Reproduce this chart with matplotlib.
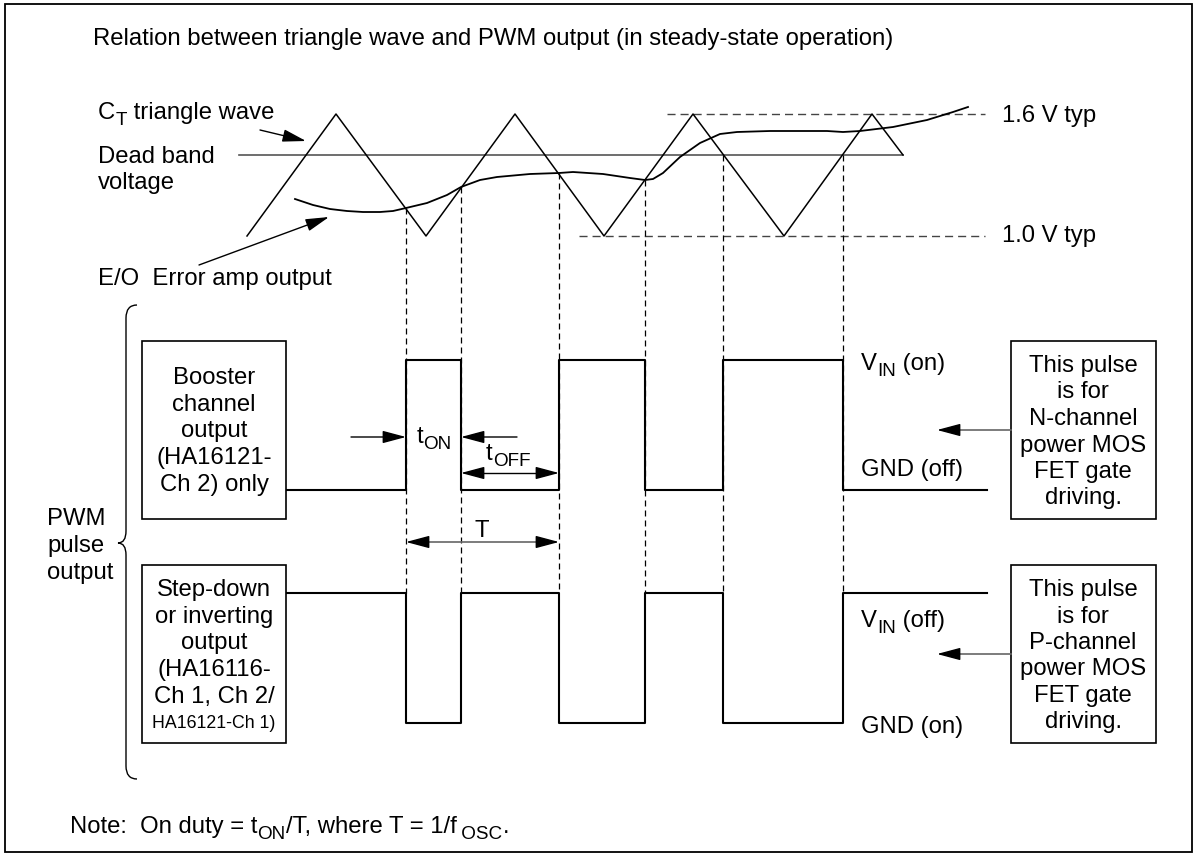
import matplotlib
matplotlib.use('Agg')
import matplotlib.pyplot as plt
from matplotlib.patches import Rectangle, PathPatch
from matplotlib.path import Path
from matplotlib.transforms import IdentityTransform

plt.rcParams['font.family'] = ['Liberation Sans', 'DejaVu Sans']
plt.rcParams['lines.scale_dashes'] = False

# --- values (x = time axis, y = level, in picture px) ---
tri_x = [247, 336, 426, 515, 604, 693, 784, 872, 903]
tri_y = [236, 114, 236, 114, 236, 114, 236, 114, 155]
dead_band_x = [239, 903]
dead_band_y = 155
v_16_y = 114
v_10_y = 236
v_16_x = [667, 985]
v_10_x = [579, 985]

# error amp output (E/O)
eo_x = [295, 313, 330, 347, 363, 380, 393, 406, 427, 447, 461, 480, 497, 530,
        559, 573, 603, 630, 645, 653, 663, 680, 700, 720, 737, 770, 793, 827,
        843, 860, 893, 927, 953, 968]
eo_y = [199, 205, 209, 211, 212, 212, 211, 208, 203, 195, 187, 180, 177, 174,
        173, 172, 174, 178, 180, 179, 173, 157, 143, 134, 132, 131, 131, 131,
        132, 131, 127, 120, 112, 107]

# switching instants (triangle crossings) and where the dashed guides start
edge_x = [406, 461, 559, 645, 723, 843]
edge_top = [208, 187, 173, 180, 155, 155]

# PWM waveforms
pulse_t = [287, 406, 461, 559, 645, 723, 843, 987]
boost_y = [490, 360, 490, 360, 490, 360, 490, 490]
step_y = [593, 723, 593, 723, 593, 723, 593, 593]
guide_bottom = 593

booster_lines = ['Booster', 'channel', 'output', '(HA16121-', 'Ch 2) only']
booster_base = [384, 411, 437, 464, 491]
stepdown_lines = ['Step-down', 'or inverting', 'output', '(HA16116-', 'Ch 1, Ch 2/']
stepdown_base = [596, 623, 649, 676, 703]
n_lines = ['This pulse', 'is for', 'N-channel', 'power MOS', 'FET gate', 'driving.']
n_base = [372, 398, 425, 452, 478, 504]
p_lines = ['This pulse', 'is for', 'P-channel', 'power MOS', 'FET gate', 'driving.']
p_base = [596, 623, 649, 675, 702, 728]

FS = 17.2
SUB_FS = 13.6

fig = plt.figure(figsize=(11.99, 8.60), dpi=100)
ax = fig.add_axes([0, 0, 1, 1])
ax.set_xlim(0, 1199)
ax.set_ylim(860, 0)
ax.axis('off')
renderer = fig.canvas.get_renderer()


def rich(x, y, parts):
    # text with subscripts: parts = [(string, is_subscript), ...]
    cx, cy = ax.transData.transform((x, y))
    for s, sub in parts:
        t = ax.text(cx, cy - (6 if sub else 0), s, fontsize=SUB_FS if sub else FS,
                    va='baseline', transform=IdentityTransform())
        cx = t.get_window_extent(renderer).x1


# outer frame
ax.add_patch(Rectangle((5, 4), 1187, 848, fill=False, lw=1.3, ec='black'))

ax.text(93, 45, 'Relation between triangle wave and PWM output (in steady-state operation)',
        fontsize=FS, va='baseline')

# triangle area
ax.plot(dead_band_x, [dead_band_y] * 2, color='#555555', lw=1.2)
ax.plot(v_16_x, [v_16_y] * 2, color='#444444', lw=1.0, dashes=(5.8, 3.6))
ax.plot(v_10_x, [v_10_y] * 2, color='#444444', lw=1.0, dashes=(5.8, 3.6))
ax.plot(tri_x, tri_y, color='black', lw=1.1)
ax.plot(eo_x, eo_y, color='black', lw=1.3)
ax.text(1002, 122, '1.6 V typ', fontsize=FS, va='baseline')
ax.text(1002, 242, '1.0 V typ', fontsize=FS, va='baseline')

rich(98, 119, [('C', False), ('T', True), (' triangle wave', False)])
ax.text(98, 163, 'Dead band', fontsize=FS, va='baseline')
ax.text(98, 189, 'voltage', fontsize=FS, va='baseline')
ax.text(98, 285, 'E/O  Error amp output', fontsize=FS, va='baseline')


def head(x0, y0, x1, y1, color='black'):
    ax.annotate('', xy=(x1, y1), xytext=(x0, y0),
                arrowprops=dict(arrowstyle='-|>,head_length=0.6,head_width=0.16',
                                mutation_scale=24, color=color, lw=1.0,
                                shrinkA=0, shrinkB=0))


head(260, 130, 306, 141)
head(199, 265, 329, 217)

# dashed guides
for x, top in zip(edge_x, edge_top):
    ax.plot([x, x], [top, guide_bottom], color='black', lw=0.9, dashes=(4.3, 2.9))

# pulse trains
ax.step(pulse_t, boost_y, where='post', color='black', lw=1.5)
ax.step(pulse_t, step_y, where='post', color='black', lw=1.5)

# boxes
for bx, by in [(142, 341), (142, 565), (1011, 341), (1011, 565)]:
    ax.add_patch(Rectangle((bx, by), 144 if bx < 500 else 145, 178, fill=False,
                           lw=1.2, ec='black'))
for t, b in zip(booster_lines, booster_base):
    ax.text(214, b, t, fontsize=FS, ha='center', va='baseline')
for t, b in zip(stepdown_lines, stepdown_base):
    ax.text(214, b, t, fontsize=FS, ha='center', va='baseline')
ax.text(214, 728, 'HA16121-Ch 1)', fontsize=12.8, ha='center', va='baseline')
for t, b in zip(n_lines, n_base):
    ax.text(1083, b, t, fontsize=FS, ha='center', va='baseline')
for t, b in zip(p_lines, p_base):
    ax.text(1083, b, t, fontsize=FS, ha='center', va='baseline')

# level labels
rich(861, 370, [('V', False), ('IN', True), (' (on)', False)])
ax.text(861, 476, 'GND (off)', fontsize=FS, va='baseline')
rich(861, 627, [('V', False), ('IN', True), (' (off)', False)])
ax.text(861, 733, 'GND (on)', fontsize=FS, va='baseline')

# arrows from right boxes
for y in [430, 654]:
    ax.plot([957, 1011], [y, y], color='#666666', lw=1.2)
    head(958, y, 937, y)

# t_ON, t_OFF, T
head(351, 437, 406, 437)
head(517, 437, 461, 437)
rich(417, 443, [('t', False), ('ON', True)])
rich(486, 460, [('t', False), ('OFF', True)])
ax.plot([480, 540], [473, 473], color='black', lw=1.0)
head(482, 473, 461, 473)
head(537, 473, 559, 473)
ax.plot([426, 540], [542, 542], color='#666666', lw=1.2)
head(428, 542, 406, 542)
head(537, 542, 559, 542)
ax.text(482, 537, 'T', fontsize=FS, ha='center', va='baseline')

# brace
bv = [(137, 305), (126, 305), (126, 318), (126, 531), (126, 543), (118, 543),
      (126, 543), (126, 555), (126, 766), (126, 779), (137, 779)]
bc = [Path.MOVETO, Path.CURVE3, Path.CURVE3, Path.LINETO, Path.CURVE3, Path.CURVE3,
      Path.CURVE3, Path.CURVE3, Path.LINETO, Path.CURVE3, Path.CURVE3]
ax.add_patch(PathPatch(Path(bv, bc), fill=False, lw=1.0, ec='black'))
ax.text(47, 525, 'PWM', fontsize=FS, va='baseline')
ax.text(47, 552, 'pulse', fontsize=FS, va='baseline')
ax.text(47, 579, 'output', fontsize=FS, va='baseline')

rich(70, 833, [('Note:  On duty = t', False), ('ON', True), ('/T, where T = 1/f', False),
               (' OSC', True), ('.', False)])

fig.savefig('out.png', dpi=100)
